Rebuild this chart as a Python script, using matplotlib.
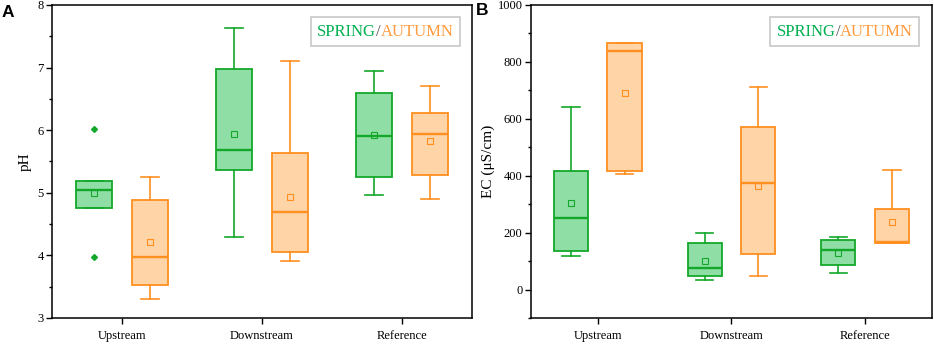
import matplotlib
matplotlib.use("Agg")
import matplotlib.pyplot as plt
from matplotlib.offsetbox import TextArea, HPacker, AnchoredOffsetbox
from matplotlib.ticker import MultipleLocator

plt.rcParams['font.family'] = ['Liberation Serif', 'DejaVu Serif']

sites = ['Upstream', 'Downstream', 'Reference']

# pH  (whislo, q1, med, q3, whishi, mean)
ph_spring_lo   = [4.76, 4.30, 4.96]
ph_spring_q1   = [4.76, 5.36, 5.26]
ph_spring_med  = [5.05, 5.69, 5.90]
ph_spring_q3   = [5.19, 6.97, 6.59]
ph_spring_hi   = [5.19, 7.64, 6.95]
ph_spring_mean = [5.00, 5.94, 5.93]
ph_spring_fl   = [[6.02, 3.97], [], []]

ph_autumn_lo   = [3.31, 3.91, 4.90]
ph_autumn_q1   = [3.53, 4.05, 5.28]
ph_autumn_med  = [3.97, 4.69, 5.94]
ph_autumn_q3   = [4.89, 5.63, 6.28]
ph_autumn_hi   = [5.245, 7.10, 6.70]
ph_autumn_mean = [4.21, 4.93, 5.82]

# EC (uS/cm)
ec_spring_lo   = [118, 34, 57]
ec_spring_q1   = [136, 47, 85]
ec_spring_med  = [253, 76, 138]
ec_spring_q3   = [415, 164, 173]
ec_spring_hi   = [643, 200, 184]
ec_spring_mean = [304, 99, 129]

ec_autumn_lo   = [405, 47, 163]
ec_autumn_q1   = [415, 126, 163]
ec_autumn_med  = [839, 375, 166]
ec_autumn_q3   = [868, 571, 283]
ec_autumn_hi   = [868, 710, 420]
ec_autumn_mean = [692, 364, 239]

green_edge = '#14a82a'
green_fill = '#8fdea6'
orange_edge = '#ff8f1f'
orange_fill = '#ffd4a6'


def make_stats(lo, q1, med, q3, hi, mean, fliers=None):
    out = []
    for i in range(len(lo)):
        out.append(dict(whislo=lo[i], q1=q1[i], med=med[i], q3=q3[i],
                        whishi=hi[i], mean=mean[i],
                        fliers=fliers[i] if fliers else []))
    return out


def draw(ax, stats, pos, edge, fill):
    ax.bxp(stats, positions=pos, widths=0.255, patch_artist=True,
           showmeans=True, showfliers=True,
           boxprops=dict(facecolor=fill, edgecolor=edge, linewidth=1.3),
           medianprops=dict(color=edge, linewidth=1.7),
           whiskerprops=dict(color=edge, linewidth=1.2),
           capprops=dict(color=edge, linewidth=1.2),
           capwidths=0.13,
           meanprops=dict(marker='s', markersize=3.8, markerfacecolor='none',
                          markeredgecolor=edge, markeredgewidth=0.8),
           flierprops=dict(marker='D', markersize=3, markerfacecolor=edge,
                           markeredgecolor=edge))


def legend_box(ax):
    parts = [TextArea('SPRING', textprops=dict(color='#00b050', fontsize=12)),
             TextArea('/', textprops=dict(color='#555555', fontsize=12)),
             TextArea('AUTUMN', textprops=dict(color='#ff9a3c', fontsize=12))]
    box = HPacker(children=parts, align='baseline', pad=0, sep=0)
    anch = AnchoredOffsetbox(loc='upper right', child=box, pad=0.45,
                             borderpad=0.9, frameon=True)
    anch.patch.set_edgecolor('#c8c8c8')
    anch.patch.set_linewidth(1.2)
    ax.add_artist(anch)


fig = plt.figure(figsize=(9.34, 3.46), dpi=100)
axA = fig.add_axes([0.0557, 0.081, 0.4497, 0.9046])
axB = fig.add_axes([0.5685, 0.081, 0.4293, 0.9046])

x = [1, 2, 3]
xs = [i - 0.2 for i in x]
xa = [i + 0.2 for i in x]

draw(axA, make_stats(ph_spring_lo, ph_spring_q1, ph_spring_med, ph_spring_q3,
                     ph_spring_hi, ph_spring_mean, ph_spring_fl), xs, green_edge, green_fill)
draw(axA, make_stats(ph_autumn_lo, ph_autumn_q1, ph_autumn_med, ph_autumn_q3,
                     ph_autumn_hi, ph_autumn_mean), xa, orange_edge, orange_fill)
draw(axB, make_stats(ec_spring_lo, ec_spring_q1, ec_spring_med, ec_spring_q3,
                     ec_spring_hi, ec_spring_mean), xs, green_edge, green_fill)
draw(axB, make_stats(ec_autumn_lo, ec_autumn_q1, ec_autumn_med, ec_autumn_q3,
                     ec_autumn_hi, ec_autumn_mean), xa, orange_edge, orange_fill)

axA.set_ylim(3, 8)
axA.yaxis.set_major_locator(MultipleLocator(1))
axA.yaxis.set_minor_locator(MultipleLocator(0.5))
axA.set_ylabel('pH', fontsize=11, labelpad=4)

axB.set_ylim(-100, 1000)
axB.set_yticks([0, 200, 400, 600, 800, 1000])
axB.yaxis.set_minor_locator(MultipleLocator(100))
axB.set_ylabel('EC (μS/cm)', fontsize=11, labelpad=2)

for ax in (axA, axB):
    ax.set_xlim(0.5, 3.5)
    ax.set_xticks(x)
    ax.set_xticklabels(sites, fontsize=9)
    ax.tick_params(axis='both', which='major', direction='out', length=4,
                   width=1, labelsize=9, pad=2)
    ax.tick_params(axis='y', which='minor', direction='out', length=2.5, width=1)
    ax.tick_params(axis='x', pad=5)
    for s in ax.spines.values():
        s.set_linewidth(1.1)
    legend_box(ax)

fig.text(0.002, 0.985, 'A', fontsize=12.5, fontweight='bold',
         family=['Liberation Sans', 'DejaVu Sans'], va='top', ha='left')
fig.text(0.509, 0.99, 'B', fontsize=12.5, fontweight='bold',
         family=['Liberation Sans', 'DejaVu Sans'], va='top', ha='left')

fig.savefig('out.png', dpi=100)
